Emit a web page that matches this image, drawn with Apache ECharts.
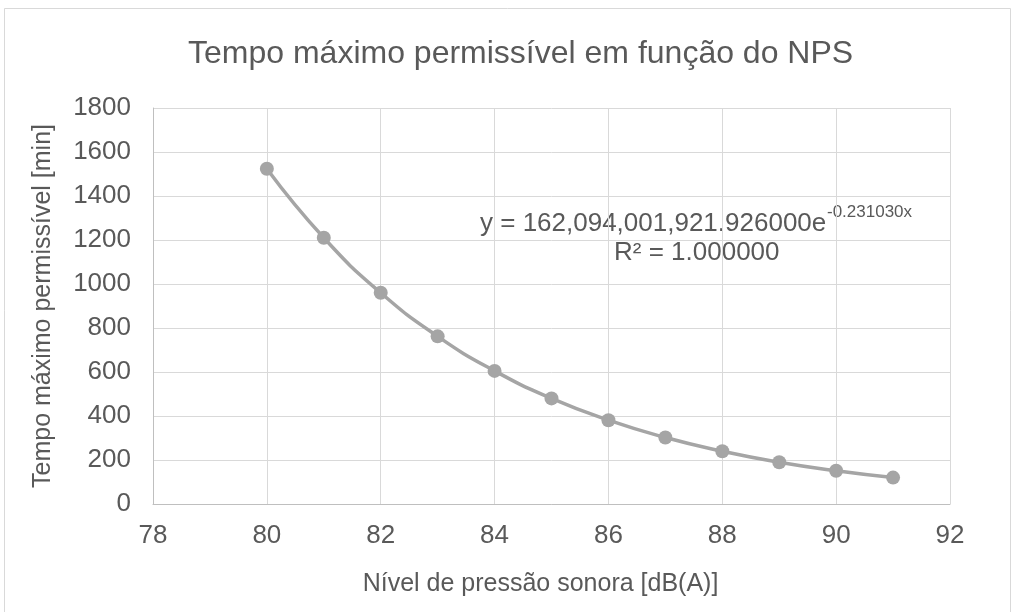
<!DOCTYPE html>
<html>
<head>
<meta charset="utf-8">
<script src="https://cdn.jsdelivr.net/npm/echarts@6/dist/echarts.min.js"></script>
<style>
  html, body { margin: 0; padding: 0; background: #fff; }
  #chart { width: 1016px; height: 612px; }
</style>
</head>
<body>
<div id="chart"></div>
<script>
// NPS [dB(A)] e tempo máximo permissível [min]
const nps = [80, 81, 82, 83, 84, 85, 86, 87, 88, 89, 90, 91];
const tempo = [1524, 1210, 960, 762, 605, 480, 381, 302, 240, 190, 151, 120];
const yTicks = [0, 200, 400, 600, 800, 1000, 1200, 1400, 1600, 1800];
const xTicks = [78, 80, 82, 84, 86, 88, 90, 92];

const txtColor = '#595959';
const font = 'Liberation Sans, Arial, sans-serif';

const myChart = echarts.init(document.getElementById('chart'));
const option = {
    backgroundColor: '#fff',
    animation: false,
    title: {
        text: 'Tempo máximo permissível em função do NPS',
        left: 183,
        top: 33,
        textStyle: { fontFamily: font, fontSize: 32, fontWeight: 'normal', color: txtColor }
    },
    grid: { left: 153, right: 66, top: 108, bottom: 108 },
    xAxis: {
        type: 'value',
        min: xTicks[0],
        max: xTicks[xTicks.length - 1],
        interval: 2,
        name: 'Nível de pressão sonora [dB(A)]',
        nameLocation: 'middle',
        nameGap: 68,
        nameTextStyle: { fontFamily: font, fontSize: 25, color: txtColor, padding: [0, 22, 0, 0] },
        axisLine: { lineStyle: { color: '#BFBFBF', width: 1 } },
        axisTick: { show: false },
        axisLabel: { fontFamily: font, fontSize: 26, color: txtColor, margin: 19 },
        splitLine: { show: true, lineStyle: { color: '#D9D9D9', width: 1 } }
    },
    yAxis: {
        type: 'value',
        min: yTicks[0],
        max: yTicks[yTicks.length - 1],
        interval: 200,
        name: 'Tempo máximo permissível [min]',
        nameLocation: 'middle',
        nameGap: 97,
        nameTextStyle: { fontFamily: font, fontSize: 25, color: txtColor },
        axisLine: { show: true, lineStyle: { color: '#BFBFBF', width: 1 } },
        axisTick: { show: false },
        axisLabel: {
            fontFamily: font, fontSize: 26, color: txtColor, margin: 22,
            formatter: function (v) { return String(v); }
        },
        splitLine: { show: true, lineStyle: { color: '#D9D9D9', width: 1 } }
    },
    series: [{
        type: 'line',
        data: nps.map((x, i) => [x, tempo[i]]),
        smooth: true,
        symbol: 'circle',
        symbolSize: 14,
        lineStyle: { color: '#A5A5A5', width: 3.5 },
        itemStyle: { color: '#A5A5A5' }
    }],
    graphic: [
        {
            type: 'rect',
            shape: { x: 4.5, y: 8.5, width: 1006, height: 610 },
            style: { fill: 'none', stroke: '#D9D9D9', lineWidth: 1 },
            silent: true
        },
        {
            type: 'text',
            left: 480,
            top: 211,
            style: {
                text: 'y = 162,094,001,921.926000e',
                fontFamily: font, fontSize: 26, fill: txtColor
            }
        },
        {
            type: 'text',
            left: 827,
            top: 204,
            style: {
                text: '-0.231030x',
                fontFamily: font, fontSize: 17, fill: txtColor
            }
        },
        {
            type: 'text',
            left: 614,
            top: 240,
            style: {
                text: 'R² = 1.000000',
                fontFamily: font, fontSize: 26, fill: txtColor
            }
        }
    ]
};
myChart.setOption(option);
</script>
</body>
</html>
